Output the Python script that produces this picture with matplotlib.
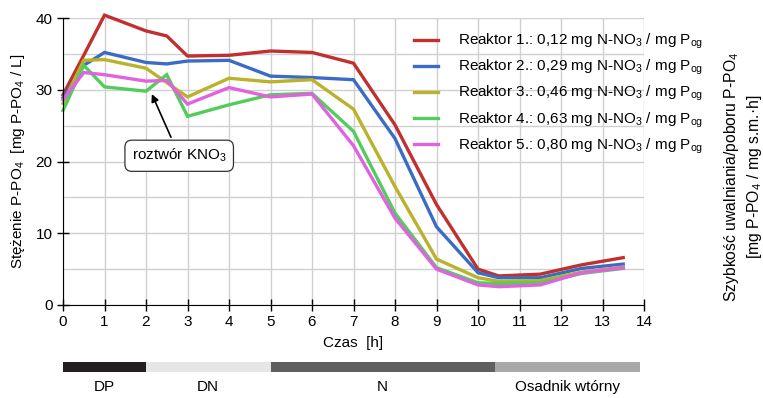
import matplotlib
matplotlib.use("Agg")
import matplotlib.pyplot as plt
from matplotlib.patches import Rectangle

plt.rcParams['font.family'] = ['Liberation Sans', 'DejaVu Sans']
plt.rcParams['mathtext.fontset'] = 'custom'
plt.rcParams['mathtext.rm'] = 'Liberation Sans'
plt.rcParams['mathtext.it'] = 'Liberation Sans:italic'
plt.rcParams['mathtext.bf'] = 'Liberation Sans:bold'

hours = [0, 0.5, 1, 2, 2.5, 3, 4, 5, 6, 7, 8, 9, 10, 10.5, 11.5, 12.5, 13.5]
r1 = [29.3, 34.8, 40.4, 38.2, 37.5, 34.7, 34.8, 35.4, 35.2, 33.7, 25.1, 14.0, 5.0, 4.05, 4.3, 5.6, 6.6]
r2 = [28.9, 33.4, 35.2, 33.8, 33.6, 34.0, 34.1, 31.9, 31.7, 31.4, 23.2, 10.9, 4.5, 3.8, 3.8, 5.1, 5.7]
r3 = [28.1, 34.1, 34.2, 33.0, 31.0, 29.0, 31.6, 31.1, 31.4, 27.3, 16.5, 6.4, 3.8, 3.3, 3.4, 4.6, 5.3]
r4 = [27.1, 33.4, 30.4, 29.8, 32.1, 26.3, 27.9, 29.3, 29.5, 24.2, 12.8, 5.2, 3.1, 3.0, 3.1, 4.4, 5.1]
r5 = [28.6, 32.4, 32.1, 31.2, 31.3, 28.0, 30.3, 29.0, 29.4, 22.2, 12.1, 5.0, 2.8, 2.55, 2.8, 4.5, 5.2]
series = [r1, r2, r3, r4, r5]
labels = [
    "Reaktor 1.: 0,12 mg N-NO$_3$ / mg P$_{\\mathrm{og}}$",
    "Reaktor 2.: 0,29 mg N-NO$_3$ / mg P$_{\\mathrm{og}}$",
    "Reaktor 3.: 0,46 mg N-NO$_3$ / mg P$_{\\mathrm{og}}$",
    "Reaktor 4.: 0,63 mg N-NO$_3$ / mg P$_{\\mathrm{og}}$",
    "Reaktor 5.: 0,80 mg N-NO$_3$ / mg P$_{\\mathrm{og}}$",
]
colors = ["#c0302e", "#3a6cc6", "#b9b22a", "#52cc5c", "#e062e0"]

phase_names = ["DP", "DN", "N", "Osadnik wtórny"]
phase_start = [0, 2, 5, 10.4]
phase_end = [2, 5, 10.4, 13.9]
phase_colors = ["#231f20", "#e6e6e6", "#5f5f5f", "#a9a9a9"]

fig = plt.figure(figsize=(7.63, 3.98), dpi=100)
ax = fig.add_axes([63/763, (398-305)/398, (644-63)/763, (305-18)/398])
ax.set_xlim(0, 14)
ax.set_ylim(0, 40)
for y, lab, c in zip(series, labels, colors):
    ax.plot(hours, y, color=c, lw=2.4, label=lab, solid_joinstyle='miter', clip_on=False)

ax.set_xticks(range(0, 15))
ax.set_yticks([0, 10, 20, 30, 40])
ax.set_yticks([5, 15, 25, 35], minor=True)
ax.tick_params(axis='y', which='minor', length=0)
ax.grid(True, which='both', color='#d0d0d0', lw=1)
ax.set_axisbelow(True)
ax.tick_params(axis='both', which='major', direction='inout', length=8, width=1, labelsize=11)
for s in ['top', 'right']:
    ax.spines[s].set_visible(False)
ax.set_xlabel("Czas  [h]", fontsize=11, labelpad=5)
ax.set_ylabel("Stężenie P-PO$_4$  [mg P-PO$_4$ / L]", fontsize=11, labelpad=6)

leg = ax.legend(loc='upper left', bbox_to_anchor=(0.585, 0.988), frameon=False,
                fontsize=11, handlelength=1.6, handletextpad=1.3,
                labelspacing=0.44, borderaxespad=0.3)

ax.annotate("roztwór KNO$_3$", xy=(2.14, 29.4), xytext=(2.8, 20.8),
            fontsize=11, ha='center', va='center',
            bbox=dict(boxstyle='round,pad=0.45', fc='white', ec='#333333', lw=0.9),
            arrowprops=dict(arrowstyle='-|>', color='black', lw=1.2, shrinkA=2, shrinkB=0))

fig.text(743/763, 0.555, "Szybkość uwalniania/poboru P-PO$_4$\n[mg P-PO$_4$ / mg s.m.·h]",
         rotation=90, ha='center', va='center', fontsize=11.3, multialignment='center',
         linespacing=1.3)

bax = fig.add_axes([63/763, (398-372)/398, (644-63)/763, 10/398])
bax.set_xlim(0, 14)
bax.set_ylim(0, 1)
bax.axis('off')
for name, s0, s1, c in zip(phase_names, phase_start, phase_end, phase_colors):
    bax.add_patch(Rectangle((s0, 0), s1 - s0, 1, color=c, lw=0))
    bax.text((s0 + s1) / 2, -0.8, name, ha='center', va='top', fontsize=11)

fig.savefig("out.png", dpi=100)
